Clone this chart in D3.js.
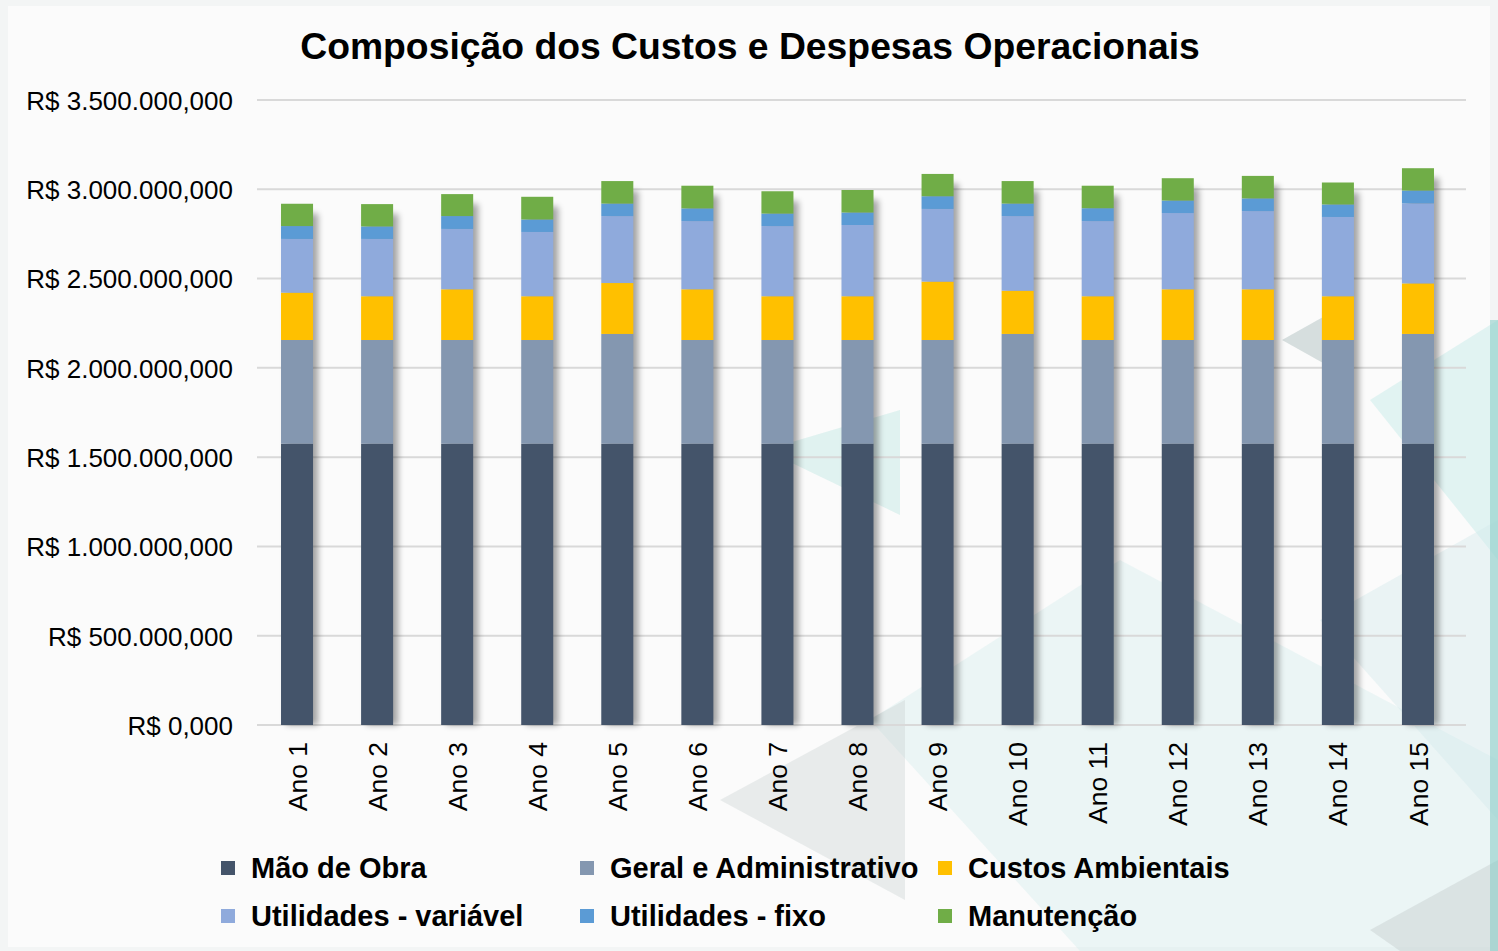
<!DOCTYPE html>
<html>
<head>
<meta charset="utf-8">
<script src="https://cdn.jsdelivr.net/npm/d3@7"></script>
<style>
  body { margin: 0; background: #f7f8f8; }
  svg { display: block; font-family: "Liberation Sans", Arial, sans-serif; }
  svg text { font-family: "Liberation Sans", Arial, sans-serif; }
</style>
</head>
<body>
<svg id="chart"></svg>
<script>
// Data (R$ mil)
const years = ["Ano 1", "Ano 2", "Ano 3", "Ano 4", "Ano 5", "Ano 6", "Ano 7", "Ano 8",
    "Ano 9", "Ano 10", "Ano 11", "Ano 12", "Ano 13", "Ano 14", "Ano 15"];

const maoDeObra = [1575000, 1575000, 1575000, 1575000, 1575000, 1575000, 1575000, 1575000,
    1575000, 1575000, 1575000, 1575000, 1575000, 1575000, 1575000];
const geralAdm = [581000, 581000, 581000, 581000, 615000, 581000, 581000, 581000,
    581000, 615000, 581000, 581000, 581000, 581000, 615000];
const custosAmbientais = [265000, 245000, 284000, 245000, 285000, 284000, 245000, 245000,
    327000, 242000, 245000, 284000, 284000, 245000, 283000];
const utilVariavel = [301000, 321000, 338000, 360000, 375000, 382000, 393000, 399000,
    407000, 418000, 421000, 427000, 438000, 444000, 448000];
const utilFixo = [72000, 70000, 72000, 70000, 70000, 71000, 70000, 70000,
    71000, 70000, 72000, 70000, 71000, 70000, 72000];
const manutencao = [125000, 125000, 123000, 127000, 126000, 127000, 125000, 126000,
    125000, 126000, 126000, 125000, 126000, 123000, 125000];

const seriesNames = ["Mão de Obra", "Geral e Administrativo", "Custos Ambientais",
    "Utilidades - variável", "Utilidades - fixo", "Manutenção"];
const seriesColors = ["#44546a", "#8497b0", "#ffc000", "#8faadc", "#5b9bd5", "#70ad47"];
const yTicks = [0, 500000, 1000000, 1500000, 2000000, 2500000, 3000000, 3500000];

const title = "Composição dos Custos e Despesas Operacionais";

// Dimensions
const width = 1498;
const height = 951;
const margin = { top: 100, right: 32, bottom: 226, left: 257 };
const font = '"Liberation Sans", Arial, sans-serif';

const svg = d3.select("#chart")
    .attr("width", width)
    .attr("height", height);

// Background decoration (light geometric shapes)
const bg = svg.append("g");
bg.append("rect").attr("width", width).attr("height", height).attr("fill", "#f3f5f5");
bg.append("rect").attr("x", 8).attr("y", 6).attr("width", width - 16).attr("height", height - 10)
    .attr("fill", "#fbfbfb");
const shapes = [
    { pts: [[870, 720], [1120, 560], [1498, 760], [1498, 951], [1080, 951]], fill: "#cfeceb", op: 0.35 },
    { pts: [[765, 450], [900, 410], [900, 515]], fill: "#bfe6e3", op: 0.45 },
    { pts: [[720, 800], [905, 700], [905, 900]], fill: "#c5cfcf", op: 0.35 },
    { pts: [[1282, 340], [1332, 312], [1332, 368]], fill: "#b8c6c6", op: 0.55 },
    { pts: [[1370, 400], [1498, 320], [1498, 560]], fill: "#c8ecea", op: 0.5 },
    { pts: [[1320, 620], [1498, 520], [1498, 820]], fill: "#d2e8ea", op: 0.4 },
    { pts: [[1370, 930], [1498, 860], [1498, 951], [1400, 951]], fill: "#c5cfcf", op: 0.45 }
];
bg.selectAll("polygon.bgshape")
    .data(shapes)
    .enter()
    .append("polygon")
    .attr("class", "bgshape")
    .attr("points", d => d.pts.map(p => p.join(",")).join(" "))
    .attr("fill", d => d.fill)
    .attr("opacity", d => d.op);
bg.append("rect").attr("x", 1490).attr("y", 320).attr("width", 8).attr("height", 631)
    .attr("fill", "#7fc9c4").attr("opacity", 0.5);

// Shadow filter for the bars
const defs = svg.append("defs");
defs.append("filter")
    .attr("id", "blur")
    .attr("x", "-50%").attr("y", "-10%").attr("width", "200%").attr("height", "120%")
    .append("feGaussianBlur")
    .attr("stdDeviation", 3);

// Table for the stack
const table = years.map((y, i) => ({
    year: y,
    "Mão de Obra": maoDeObra[i],
    "Geral e Administrativo": geralAdm[i],
    "Custos Ambientais": custosAmbientais[i],
    "Utilidades - variável": utilVariavel[i],
    "Utilidades - fixo": utilFixo[i],
    "Manutenção": manutencao[i]
}));
const stacked = d3.stack().keys(seriesNames)(table);

// Scales
const x = d3.scaleBand()
    .domain(years)
    .range([margin.left, width - margin.right - 8])
    .paddingInner(0.6)
    .paddingOuter(0.3);

const y = d3.scaleLinear()
    .domain([0, 3500000])
    .range([height - margin.bottom, margin.top]);

const color = d3.scaleOrdinal().domain(seriesNames).range(seriesColors);

const br = d3.formatLocale({ decimal: ",", thousands: ".", grouping: [3], currency: ["R$ ", ""] });
const fmt = br.format("$,.3f");

// Gridlines
svg.append("g")
    .selectAll("line")
    .data(yTicks)
    .enter()
    .append("line")
    .attr("x1", margin.left)
    .attr("x2", width - margin.right)
    .attr("y1", d => y(d))
    .attr("y2", d => y(d))
    .attr("stroke", "#d9d9d9")
    .attr("stroke-width", 2);

// Y axis labels
const yAxis = svg.append("g")
    .attr("transform", `translate(${margin.left - 24},0)`)
    .call(d3.axisLeft(y).tickValues(yTicks).tickFormat(fmt).tickSize(0).tickPadding(0))
    .attr("font-family", font);
yAxis.select(".domain").remove();
yAxis.selectAll("text")
    .style("font-family", font)
    .style("font-size", "26px")
    .style("fill", "#000")
    .attr("dy", "0.36em");

// Bar shadows
const totals = table.map(d => seriesNames.reduce((s, k) => s + d[k], 0));
svg.append("g")
    .selectAll("rect")
    .data(years)
    .enter()
    .append("rect")
    .attr("x", d => x(d) + 5)
    .attr("y", (d, i) => y(totals[i]) + 10)
    .attr("width", x.bandwidth())
    .attr("height", (d, i) => y(0) - y(totals[i]) - 10)
    .attr("fill", "#000")
    .attr("opacity", 0.35)
    .attr("filter", "url(#blur)");

// Bars
svg.append("g")
    .selectAll("g")
    .data(stacked)
    .enter()
    .append("g")
    .attr("fill", d => color(d.key))
    .selectAll("rect")
    .data(d => d)
    .enter()
    .append("rect")
    .attr("x", d => x(d.data.year))
    .attr("y", d => y(d[1]))
    .attr("width", x.bandwidth())
    .attr("height", d => y(d[0]) - y(d[1]));

// X axis labels (rotated)
const xAxis = svg.append("g")
    .attr("transform", `translate(0,${y(0)})`)
    .call(d3.axisBottom(x).tickSize(0).tickPadding(0))
    .attr("font-family", font);
xAxis.select(".domain").remove();
xAxis.selectAll("text")
    .style("font-family", font)
    .style("font-size", "26.5px")
    .style("fill", "#000")
    .attr("text-anchor", "end")
    .attr("transform", "rotate(-90)")
    .attr("x", -17)
    .attr("y", 0)
    .attr("dy", "0.36em");

// Title
svg.append("text")
    .attr("x", 750)
    .attr("y", 59)
    .attr("text-anchor", "middle")
    .style("font-size", "37.3px")
    .style("font-weight", "bold")
    .style("fill", "#000")
    .text(title);

// Legend
const legendCols = [221, 580, 938];
const legendRows = [868, 916];
const legend = svg.append("g")
    .selectAll("g")
    .data(seriesNames)
    .enter()
    .append("g")
    .attr("transform", (d, i) => `translate(${legendCols[i % 3]},${legendRows[Math.floor(i / 3)]})`);
legend.append("rect")
    .attr("x", 0)
    .attr("y", -7)
    .attr("width", 14)
    .attr("height", 14)
    .attr("fill", d => color(d));
legend.append("text")
    .attr("x", 30)
    .attr("y", 0)
    .attr("dy", "0.36em")
    .style("font-size", "29px")
    .style("font-weight", "bold")
    .style("fill", "#000")
    .text(d => d);
</script>
</body>
</html>
